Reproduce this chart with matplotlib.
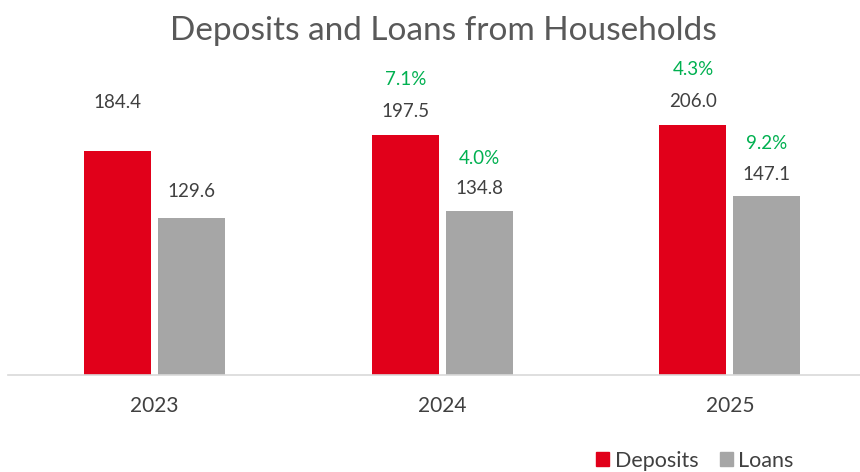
import matplotlib
matplotlib.use("Agg")
from matplotlib import pyplot as plt
from matplotlib.patches import Patch
import numpy as np

years = ['2023', '2024', '2025']
deposits = [184.4, 197.5, 206.0]
loans = [129.6, 134.8, 147.1]
dep_growth = ['', '7.1%', '4.3%']
loan_growth = ['', '4.0%', '9.2%']

RED = '#E1001A'
GREY = '#A6A6A6'
TXT = '#404040'
GREEN = '#00B050'

plt.rcParams['font.family'] = ['Lato', 'DejaVu Sans']

fig = plt.figure(figsize=(8.6, 4.72), dpi=100)
ax = fig.add_axes([8 / 860, 1 - 375 / 472, 852 / 860, 328 / 472])

x = np.arange(len(years))
w = 0.233
off = 0.1286
ax.bar(x - off, deposits, w, color=RED)
ax.bar(x + off, loans, w, color=GREY)

ax.set_xlim(-0.509, 2.452)
ax.set_ylim(0, 328 / 1.215)

# value labels (offsets in points above bar top)
dep_off = [35, 17, 17]
loan_off = [19, 16, 16]
fs = 13.5
for i in range(len(years)):
    ax.annotate(f'{deposits[i]:.1f}', (x[i] - off, deposits[i]), xytext=(0, dep_off[i]),
                textcoords='offset points', ha='center', va='center', fontsize=fs, color=TXT)
    ax.annotate(f'{loans[i]:.1f}', (x[i] + off, loans[i]), xytext=(0, loan_off[i]),
                textcoords='offset points', ha='center', va='center', fontsize=fs, color=TXT)
    if dep_growth[i]:
        ax.annotate(dep_growth[i], (x[i] - off, deposits[i]), xytext=(0, dep_off[i] + 23),
                    textcoords='offset points', ha='center', va='center', fontsize=fs, color=GREEN)
    if loan_growth[i]:
        ax.annotate(loan_growth[i], (x[i] + off, loans[i]), xytext=(0, loan_off[i] + 22),
                    textcoords='offset points', ha='center', va='center', fontsize=fs, color=GREEN)

for s in ['top', 'right', 'left']:
    ax.spines[s].set_visible(False)
ax.spines['bottom'].set_color('#D9D9D9')
ax.spines['bottom'].set_linewidth(1.2)
ax.set_yticks([])
ax.set_xticks(x)
ax.set_xticklabels(years, fontsize=15, color=TXT)
ax.tick_params(axis='x', length=0, pad=15)

fig.text(0.515, 0.935, 'Deposits and Loans from Households', ha='center', va='center',
         fontsize=24, color='#595959')

handles = [Patch(color=RED, label='Deposits'), Patch(color=GREY, label='Loans')]
fig.legend(handles=handles, loc='center', bbox_to_anchor=(0.808, 0.024), ncol=2, frameon=False,
           fontsize=15.5, labelcolor=TXT, handlelength=0.6, handleheight=0.6,
           handletextpad=0.25, columnspacing=1.0)

fig.savefig('out.png', dpi=100)
